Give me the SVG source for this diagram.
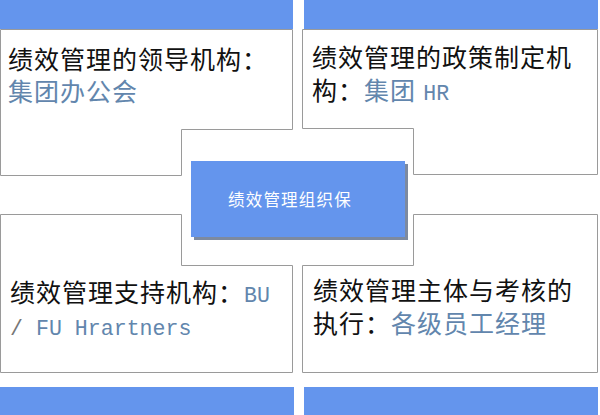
<svg xmlns="http://www.w3.org/2000/svg" width="600" height="415" viewBox="0 0 600 415">
<style>
.bar{fill:#6495ED}
.panel{fill:#ffffff;stroke:#9a9a9a;stroke-width:1}
.t{font-family:"Liberation Serif","Noto Sans CJK SC",serif;font-size:25px;letter-spacing:1px;fill:#111}
.b{fill:#6286ad}
.m{font-family:"Liberation Mono","Noto Sans CJK SC",monospace;font-size:21.6px;letter-spacing:0}
.c{font-family:"Noto Sans CJK SC",sans-serif;font-size:16.5px;letter-spacing:1.2px;fill:#ffffff}
</style>
<rect width="600" height="415" fill="#ffffff"/>
<g id="node-top-left">
<polygon class="panel" points="0.5,29.5 292.5,29.5 292.5,129.5 181.5,129.5 181.5,175.5 0.5,175.5"/>
<rect class="bar" x="0" y="0" width="293" height="29"/>
<text class="t" x="8" y="69">绩效管理的领导机构：</text>
<text class="t b" x="8" y="101">集团办公会</text>
</g>
<g id="node-top-right">
<polygon class="panel" points="302.5,29.5 597.5,29.5 597.5,174.5 413.5,174.5 413.5,128.5 302.5,128.5"/>
<rect class="bar" x="304" y="0" width="294" height="29"/>
<text class="t" x="312" y="67">绩效管理的政策制定机</text>
<text class="t" x="312" y="100">构：<tspan class="b">集团 </tspan><tspan class="b m">HR</tspan></text>
</g>
<g id="node-bottom-left">
<polygon class="panel" points="0.5,214.5 181.5,214.5 181.5,265.5 292.5,265.5 292.5,372.5 0.5,372.5"/>
<rect class="bar" x="0" y="387" width="294" height="28"/>
<text class="t" x="10" y="302">绩效管理支持机构：<tspan class="b m">BU</tspan></text>
<text class="t m" x="10" y="335"><tspan fill="#777">/</tspan><tspan class="b"> FU Hrartners</tspan></text>
</g>
<g id="node-bottom-right">
<polygon class="panel" points="413.5,214.5 597.5,214.5 597.5,372.5 302.5,372.5 302.5,265.5 413.5,265.5"/>
<rect class="bar" x="304" y="387" width="294" height="28"/>
<text class="t" x="313" y="300">绩效管理主体与考核的</text>
<text class="t" x="313" y="333">执行：<tspan class="b">各级员工经理</tspan></text>
</g>
<g id="node-center">
<rect x="194" y="164" width="214" height="76" fill="#7d8aa0"/>
<rect x="191" y="161" width="214" height="76" fill="#6495ED"/>
<text class="c" x="228" y="206">绩效管理组织保</text>
</g>
<g id="connectors"></g>
</svg>
